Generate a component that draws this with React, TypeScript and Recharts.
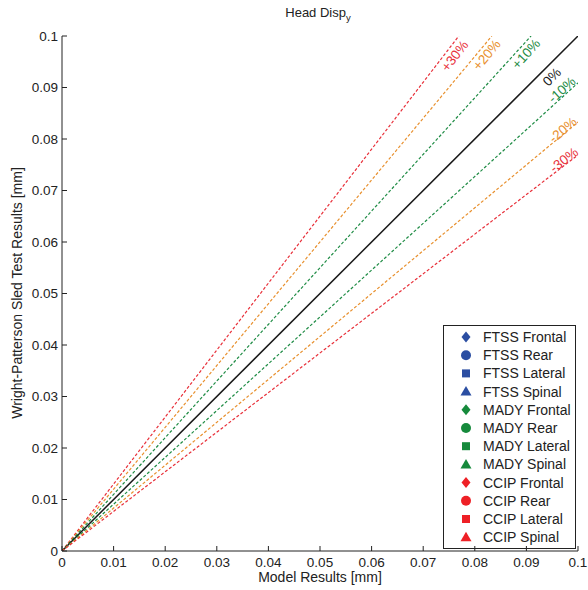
import React from "react";
import { LineChart, Line, XAxis, YAxis } from "recharts";

// axis ticks
const TICKS = [0, 0.01, 0.02, 0.03, 0.04, 0.05, 0.06, 0.07, 0.08, 0.09, 0.1];
const TICK_LABELS = ["0", "0.01", "0.02", "0.03", "0.04", "0.05", "0.06", "0.07", "0.08", "0.09", "0.1"];

// error band lines, all from the origin
const REF_NAMES = ["+30%", "+20%", "+10%", "0%", "-10%", "-20%", "-30%"];
const REF_END_X = [0.0769, 0.0833, 0.0909, 0.1, 0.1, 0.1, 0.1];
const REF_END_Y = [0.1, 0.1, 0.1, 0.1, 0.0909, 0.0833, 0.0769];
const REF_COLORS = ["#e8303a", "#e8902e", "#1f8c45", "#1a1a1a", "#1f8c45", "#e8902e", "#e8303a"];
// label offsets from line end, px
const REF_LABEL_DX = [-4, -5, -5, -26, -16, -15, -14];
const REF_LABEL_DY = [20, 19, 18, 41, 7, 8, 5];

// legend
const DUMMIES = ["FTSS", "MADY", "CCIP"];
const DUMMY_COLORS = ["#2b4ea2", "#168a3c", "#ee2026"];
const TESTS = ["Frontal", "Rear", "Lateral", "Spinal"];

const FONT = "'Liberation Sans', Arial, sans-serif";
const INK = "#222";

const XTick = (props: any) => {
  const { x, y, payload } = props;
  const i = TICKS.indexOf(payload.value);
  return (
    <g>
      <line x1={x} y1={y} x2={x} y2={y - 5} stroke={INK} />
      <text x={x} y={y + 16} textAnchor="middle" fontSize={13.5} fontFamily={FONT} fill={INK}>
        {TICK_LABELS[i]}
      </text>
    </g>
  );
};

const YTick = (props: any) => {
  const { x, y, payload } = props;
  const i = TICKS.indexOf(payload.value);
  return (
    <g>
      <line x1={x} y1={y} x2={x + 5} y2={y} stroke={INK} />
      <text x={x - 4} y={y + 4.5} textAnchor="end" fontSize={13.5} fontFamily={FONT} fill={INK}>
        {TICK_LABELS[i]}
      </text>
    </g>
  );
};

const makeLabel = (k: number) => (p: any) => {
  if (p.index !== 1) return <g />;
  const cx = p.x + REF_LABEL_DX[k];
  const cy = p.y + REF_LABEL_DY[k];
  const ang = (Math.atan(REF_END_Y[k] / REF_END_X[k]) * 180) / Math.PI;
  return (
    <text
      x={cx}
      y={cy}
      textAnchor="middle"
      dominantBaseline="central"
      fontSize={13.5}
      fontFamily={FONT}
      fill={REF_COLORS[k]}
      transform={`rotate(${-ang}, ${cx}, ${cy})`}
    >
      {REF_NAMES[k]}
    </text>
  );
};

const Marker = ({ kind, cx, cy, color }: { kind: number; cx: number; cy: number; color: string }) => {
  if (kind === 0)
    return <polygon points={`${cx},${cy - 5.5} ${cx + 4.5},${cy} ${cx},${cy + 5.5} ${cx - 4.5},${cy}`} fill={color} />;
  if (kind === 1) return <circle cx={cx} cy={cy} r={5} fill={color} />;
  if (kind === 2) return <rect x={cx - 4} y={cy - 4} width={8} height={8} fill={color} />;
  return <polygon points={`${cx},${cy - 5.5} ${cx + 5.5},${cy + 4} ${cx - 5.5},${cy + 4}`} fill={color} />;
};

const LegendBox = () => {
  const rows: React.ReactNode[] = [];
  DUMMIES.forEach((d, di) =>
    TESTS.forEach((t, ti) => {
      const n = di * TESTS.length + ti;
      const cy = 337 + n * 18.2;
      rows.push(
        <g key={n}>
          <Marker kind={ti} cx={466} cy={cy} color={DUMMY_COLORS[di]} />
          <text x={483} y={cy + 5} fontSize={14} fontFamily={FONT} fill={INK}>
            {`${d} ${t}`}
          </text>
        </g>
      );
    })
  );
  return (
    <g>
      <rect x={443.5} y={325.5} width={132} height={223} fill="#fff" stroke={INK} />
      {rows}
    </g>
  );
};

export default function App() {
  return (
    <div style={{ position: "absolute", left: 0, top: 0, background: "#fff" }}>
      <LineChart width={588} height={590} margin={{ top: 36, right: 10, bottom: 0, left: 0 }}>
        <XAxis
          dataKey="x"
          type="number"
          domain={[0, 0.1]}
          ticks={TICKS}
          allowDataOverflow
          height={39}
          tickSize={0}
          tickMargin={0}
          tickLine={false}
          axisLine={{ stroke: INK }}
          tick={<XTick />}
          interval={0}
        />
        <YAxis
          dataKey="y"
          type="number"
          domain={[0, 0.1]}
          ticks={TICKS}
          allowDataOverflow
          width={62}
          tickSize={0}
          tickMargin={0}
          tickLine={false}
          axisLine={{ stroke: INK }}
          tick={<YTick />}
          interval={0}
        />
        {REF_NAMES.map((name, k) => (
          <Line
            key={name}
            name={name}
            data={[
              { x: 0, y: 0 },
              { x: REF_END_X[k], y: REF_END_Y[k] },
            ]}
            dataKey="y"
            stroke={REF_COLORS[k]}
            strokeWidth={k === 3 ? 1.5 : 1.2}
            strokeDasharray={k === 3 ? undefined : "3 2"}
            dot={false}
            isAnimationActive={false}
            label={makeLabel(k)}
          />
        ))}
        <LegendBox />
        <text x={318} y={17} textAnchor="middle" fontSize={13} fontFamily={FONT} fill={INK}>
          Head Disp
          <tspan fontSize={9.5} dy={4}>y</tspan>
        </text>
        <text x={320} y={582} textAnchor="middle" fontSize={14} fontFamily={FONT} fill={INK}>
          Model Results [mm]
        </text>
        <text
          x={22}
          y={293}
          textAnchor="middle"
          fontSize={14}
          fontFamily={FONT}
          fill={INK}
          transform="rotate(-90, 22, 293)"
        >
          Wright-Patterson Sled Test Results [mm]
        </text>
      </LineChart>
    </div>
  );
}
